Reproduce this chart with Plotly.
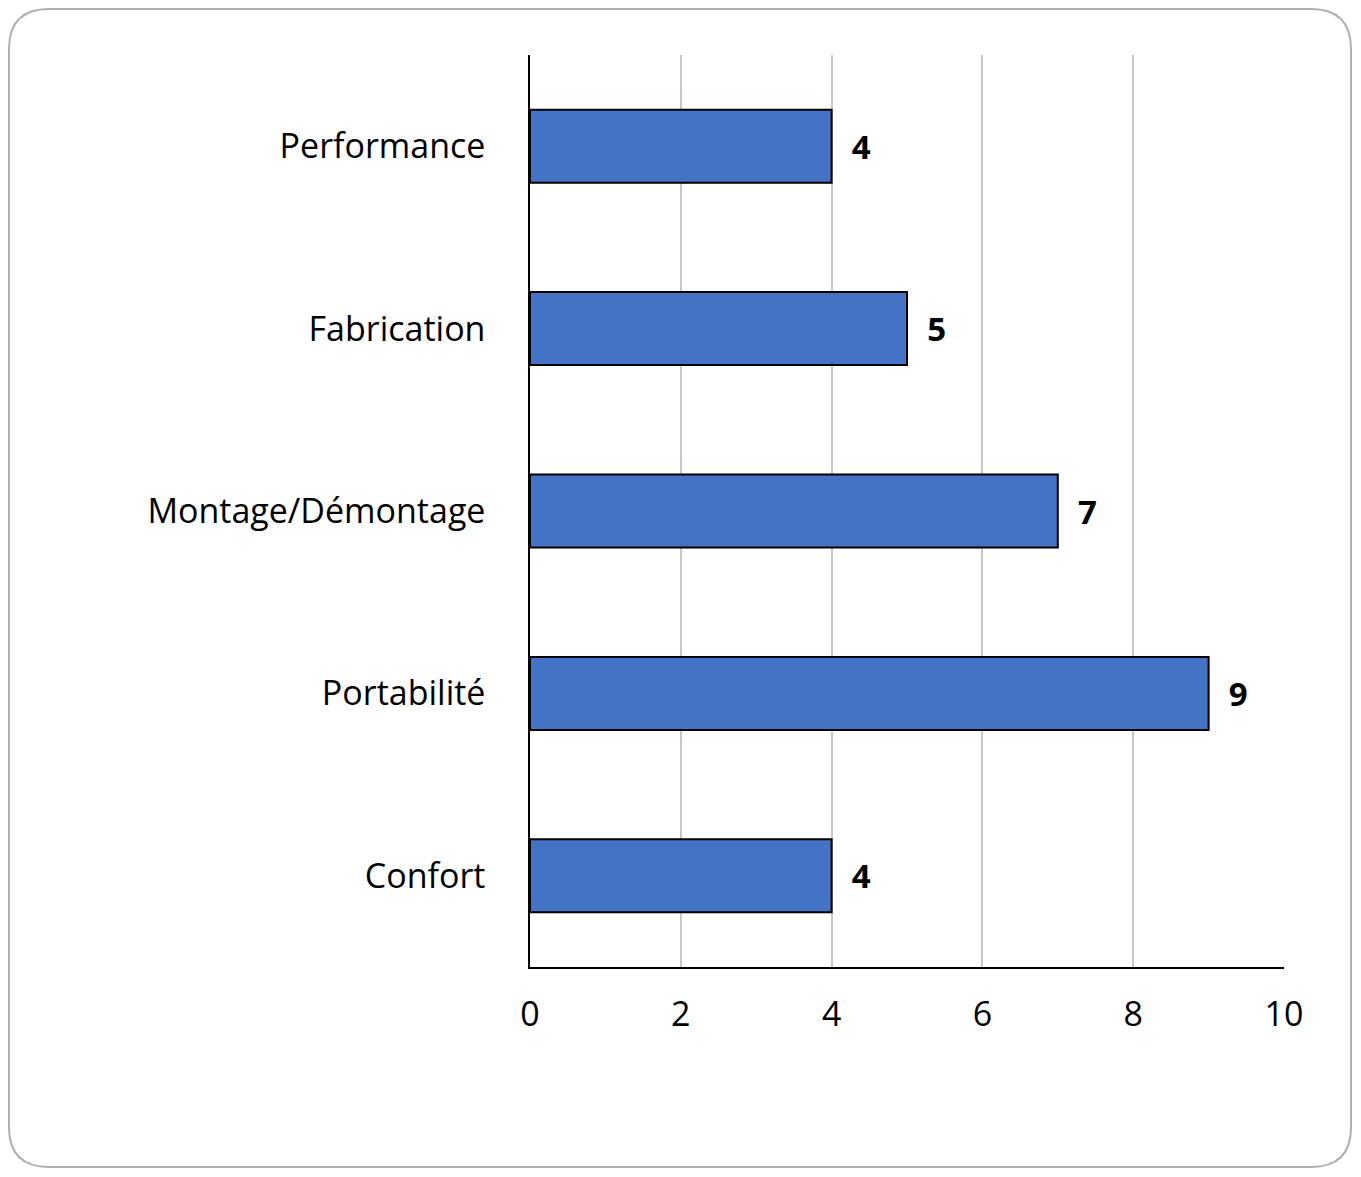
import plotly.graph_objects as go

categories = ["Performance", "Fabrication", "Montage/Démontage", "Portabilité", "Confort"]
values = [4, 5, 7, 9, 4]
x_ticks = [0, 2, 4, 6, 8, 10]

OFF = 8
W, H = 1361 - 2 * OFF, 1177 - 2 * OFF
L, R, T, B = 530 - OFF, 1284 - OFF, 55 - OFF, 967 - OFF
pw, ph = R - L, B - T

def px(x): return (x - L) / pw
def py(y): return (B - y) / ph

x0, x1, y0, y1, r = 1, W - 2, 1, H - 2, 40
path = (f"M {px(x0+r)} {py(y0)} L {px(x1-r)} {py(y0)} Q {px(x1)} {py(y0)} {px(x1)} {py(y0+r)} "
        f"L {px(x1)} {py(y1-r)} Q {px(x1)} {py(y1)} {px(x1-r)} {py(y1)} "
        f"L {px(x0+r)} {py(y1)} Q {px(x0)} {py(y1)} {px(x0)} {py(y1-r)} "
        f"L {px(x0)} {py(y0+r)} Q {px(x0)} {py(y0)} {px(x0+r)} {py(y0)} Z")

fig = go.Figure(go.Bar(
    y=categories, x=values, orientation="h",
    marker=dict(color="#4472C4", line=dict(color="black", width=2)),
    text=[f"  {v}" for v in values], textposition="outside",
    textfont=dict(family="Open Sans", size=33, color="black", weight="bold"),
    cliponaxis=False,
))
fig.update_layout(
    width=W, height=H, margin=dict(l=L, r=W - R, t=T, b=H - B),
    plot_bgcolor="white", paper_bgcolor="white", bargap=0.6, showlegend=False,
    font=dict(family="Open Sans", size=33, color="black"),
    xaxis=dict(range=[0, 10], tickvals=x_ticks, showgrid=True, gridcolor="#C8C8C8", gridwidth=1.5,
               showline=True, linecolor="black", linewidth=1.5, zeroline=False, ticks="",
               ticklabelstandoff=16, tickfont=dict(size=34)),
    yaxis=dict(autorange="reversed", showline=True, linecolor="black", linewidth=1.5,
               ticks="", ticklabelstandoff=36, tickfont=dict(size=34)),
    shapes=[dict(type="path", path=path, xref="paper", yref="paper",
                 line=dict(color="#B0B0B0", width=2), layer="below")],
)
fig.write_html("out.html")
